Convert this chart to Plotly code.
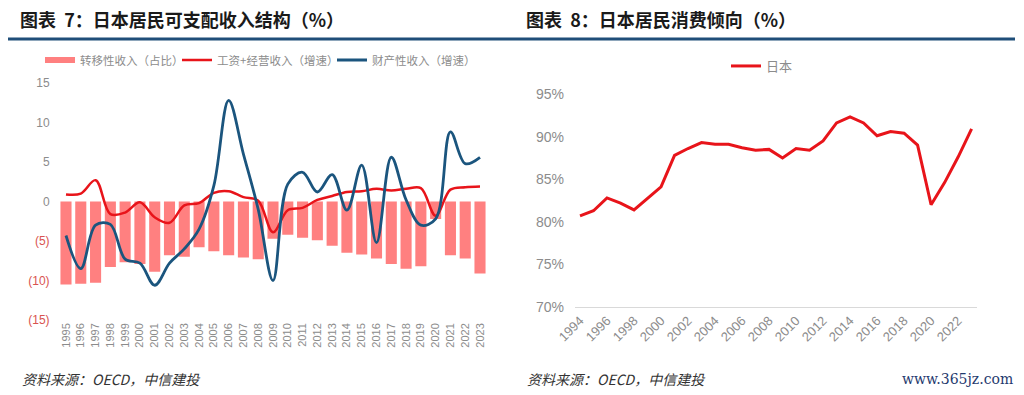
import plotly.graph_objects as go

# ---- Chart 7 data ----
years7 = list(range(1995, 2024))
transfer_share = [-10.5, -10.4, -10.3, -8.3, -7.7, -7.9, -8.9, -6.8, -7.0, -5.8, -6.3, -6.8, -7.1, -7.3,
                  -4.7, -4.2, -4.6, -4.9, -5.6, -6.5, -6.7, -7.2, -7.9, -8.5, -8.2, -2.2, -6.8, -7.2, -9.1]
wage_growth = [0.9, 1.0, 2.7, -1.6, -1.4, -0.1, -2.0, -2.7, -0.5, -0.2, 1.1, 1.3, 0.55, 0.1,
               -3.9, -1.1, -0.8, 0.2, 0.7, 1.2, 1.3, 1.6, 1.4, 1.6, 1.7, -1.8, 1.5, 1.8, 1.9]
property_growth = [-4.3, -8.5, -3.0, -2.9, -7.3, -7.8, -10.6, -7.8, -6.0, -3.5, 2.0, 12.8, 6.0, -1.0,
                   -10.0, 2.2, 3.7, 1.2, 3.4, -1.1, 4.6, -5.2, 5.6, 0.2, -3.0, -2.2, 8.8, 4.8, 5.6]
y7_ticks = [15, 10, 5, 0, -5, -10, -15]
y7_text = ["15", "10", "5", "0",
           "<span style='color:#d9534f'>(5)</span>",
           "<span style='color:#d9534f'>(10)</span>",
           "<span style='color:#d9534f'>(15)</span>"]

# ---- Chart 8 data ----
years8 = list(range(1994, 2024))
consumption_ratio = [80.7, 81.3, 82.8, 82.2, 81.4, 82.8, 84.1, 87.8, 88.6, 89.3, 89.1, 89.1, 88.7, 88.4,
                     88.5, 87.5, 88.6, 88.4, 89.5, 91.6, 92.3, 91.6, 90.1, 90.6, 90.4, 89.0, 82.0,
                     84.6, 87.6, 90.9]
x8_ticks = list(range(1994, 2023, 2))
y8_ticks = [70, 75, 80, 85, 90, 95]

W, H = 1024, 395
def px(x):
    return x / W
def py(y):
    return 1 - y / H

bar_color = "#ff8080"
fig = go.Figure()

fig.add_trace(go.Bar(x=years7, y=transfer_share, name="转移性收入（占比）",
                     marker=dict(color=bar_color, line=dict(width=0)), showlegend=False,
                     legendgroup="t", xaxis="x", yaxis="y"))
# legend swatch for the bar series (wide flat bar, as in the original legend)
fig.add_trace(go.Scatter(x=[None], y=[None], name="转移性收入（占比）", mode="lines",
                         line=dict(color=bar_color, width=6), legendgroup="t",
                         xaxis="x", yaxis="y", legend="legend"))
fig.add_trace(go.Scatter(x=years7, y=wage_growth, name="工资+经营收入（增速）", mode="lines",
                         line=dict(color="#e8141a", width=2.5, shape="spline", smoothing=1.0),
                         xaxis="x", yaxis="y", legend="legend3"))
fig.add_trace(go.Scatter(x=years7, y=property_growth, name="财产性收入（增速）", mode="lines",
                         line=dict(color="#1b557e", width=2.8, shape="spline", smoothing=1.0),
                         xaxis="x", yaxis="y", legend="legend4"))
fig.add_trace(go.Scatter(x=years8, y=consumption_ratio, name="日本", mode="lines",
                         line=dict(color="#e8141a", width=3),
                         xaxis="x2", yaxis="y2", legend="legend2"))

grey = "#8c8c8c"
leg_common = dict(orientation="h", y=py(60), xanchor="left", yanchor="middle",
                  font=dict(size=11.5, color=grey), bgcolor="rgba(0,0,0,0)", itemwidth=30)
fig.update_layout(
    width=W, height=H,
    margin=dict(l=0, r=0, t=0, b=0, autoexpand=False),
    paper_bgcolor="white", plot_bgcolor="white",
    font=dict(family="Noto Sans CJK SC, Arial", color=grey),
    bargap=0.25,
    showlegend=True,
    xaxis=dict(domain=[px(58.6), px(487.4)], range=[1994.5, 2023.5], tickvals=years7,
               ticktext=[str(y) for y in years7], tickangle=-90, showgrid=False, zeroline=False,
               showline=False, ticks="", tickfont=dict(family="Arial", size=11, color=grey),
               anchor="y", automargin=False),
    yaxis=dict(domain=[py(320), py(83)], range=[-15, 15], tickvals=y7_ticks, ticktext=y7_text,
               showgrid=False, zeroline=False, showline=False, ticks="",
               tickfont=dict(family="Arial", size=12, color=grey), ticklabelstandoff=8,
               anchor="x", automargin=False),
    xaxis2=dict(domain=[px(575), px(977)], range=[1993.63, 2023.4], tickvals=x8_ticks,
                ticktext=[str(y) for y in x8_ticks], tickangle=-45, showgrid=False, zeroline=False,
                showline=True, linecolor="#d9d9d9", linewidth=1, ticks="",
                tickfont=dict(family="Arial", size=13, color=grey), anchor="y2", automargin=False),
    yaxis2=dict(domain=[py(307), py(94)], range=[70, 95], tickvals=y8_ticks,
                ticktext=[f"{v}%" for v in y8_ticks], showgrid=False, zeroline=False,
                showline=False, ticks="",
                tickfont=dict(family="Arial", size=14, color=grey), ticklabelstandoff=10,
                anchor="x2", automargin=False),
    legend=dict(x=px(40), **leg_common),
    legend3=dict(x=px(177), **leg_common),
    legend4=dict(x=px(332), **leg_common),
    legend2=dict(orientation="h", x=px(762), y=py(66), xanchor="center", yanchor="middle",
                 font=dict(size=13, color=grey), bgcolor="rgba(0,0,0,0)", itemwidth=30),
)

# Titles
fig.add_annotation(text="<b>图表  7：日本居民可支配收入结构（%）</b>", x=px(18), y=py(19),
                   xref="paper", yref="paper", xanchor="left", yanchor="middle", showarrow=False,
                   font=dict(family="Noto Sans CJK SC", size=18, color="#1a1a1a"))
fig.add_annotation(text="<b>图表  8：日本居民消费倾向（%）</b>", x=px(524), y=py(19),
                   xref="paper", yref="paper", xanchor="left", yanchor="middle", showarrow=False,
                   font=dict(family="Noto Sans CJK SC", size=18, color="#1a1a1a"))
# Title rule
fig.add_shape(type="line", xref="paper", yref="paper", x0=px(8), x1=px(1015), y0=py(39), y1=py(39),
              line=dict(color="#1f4e79", width=3))
# Sources
for x0 in (20, 525):
    fig.add_annotation(text="<i>资料来源：OECD，中信建投</i>", x=px(x0), y=py(379),
                       xref="paper", yref="paper", xanchor="left", yanchor="middle", showarrow=False,
                       font=dict(family="Noto Sans CJK SC", size=14, color="#333333"))
fig.add_annotation(text="www.365jz.com", x=px(1015), y=py(379), xref="paper", yref="paper",
                   xanchor="right", yanchor="middle", showarrow=False,
                   font=dict(family="DejaVu Serif", size=14, color="#1f3a6e"))

fig.write_html("out.html", config={"displayModeBar": False},
               post_script="document.body.style.margin='0';")
